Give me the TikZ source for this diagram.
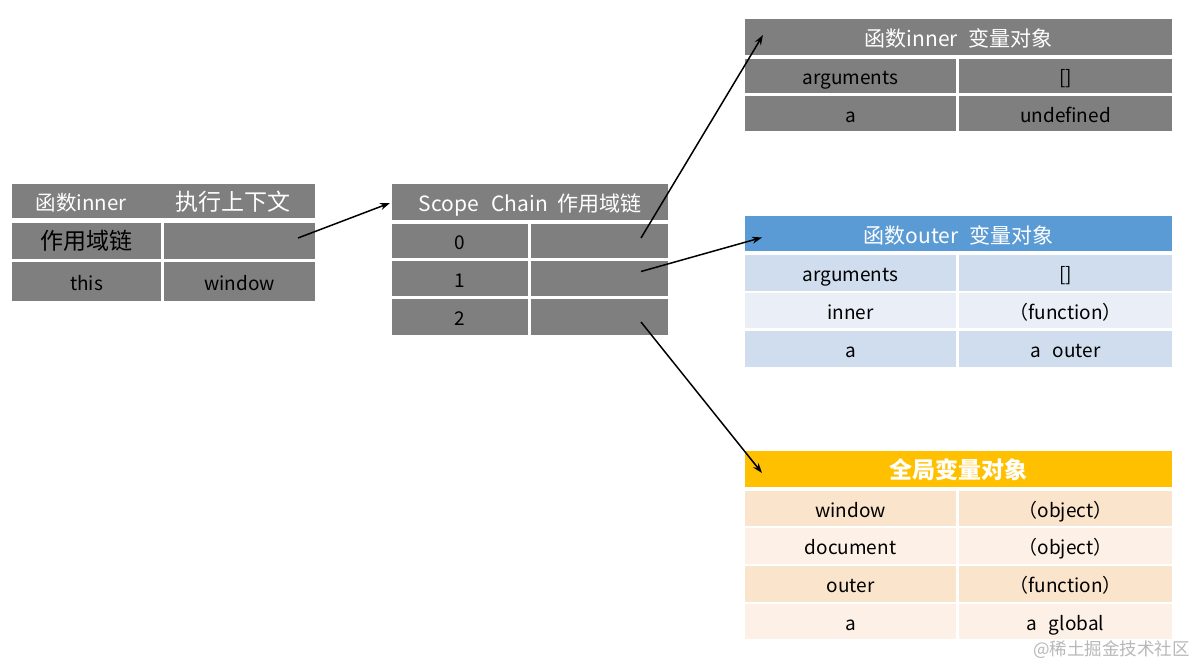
\documentclass[tikz,border=0pt]{standalone}
\usepackage{fontspec}
\setmainfont{Noto Sans CJK SC}
\usetikzlibrary{calc,arrows.meta}
\definecolor{cgray}{HTML}{7F7F7F}
\definecolor{bhead}{HTML}{5B9BD5}
\definecolor{bdark}{HTML}{D0DDEE}
\definecolor{blight}{HTML}{E9EEF7}
\definecolor{ohead}{HTML}{FFC000}
\definecolor{odark}{HTML}{FBE4CC}
\definecolor{olight}{HTML}{FDF1E7}
\definecolor{wmark}{HTML}{B8B8B8}
\newcommand{\tcell}[7]{\node[#6, minimum width={(#4-#2)*1pt}, minimum height={(#5-#3)*1pt}] (#1) at ({(#2+#4)/2},{(#3+#5)/2}) {#7};}
\begin{document}
\begin{tikzpicture}[x=1pt,y=-1pt,
  base/.style={inner sep=0pt, outer sep=0pt, draw=none, text height=17pt, text depth=0pt},
  hbase/.style={inner sep=0pt, outer sep=0pt, draw=none, text height=19pt, text depth=0pt},
  gcell/.style={base, fill=cgray, text=black, font=\fontsize{19}{22}\selectfont},
  ghead/.style={hbase, fill=cgray, text=white, font=\fontsize{21}{24}\selectfont},
  bcellA/.style={base, fill=bdark, text=black, font=\fontsize{19}{22}\selectfont},
  bcellB/.style={base, fill=blight, text=black, font=\fontsize{19}{22}\selectfont},
  bheadst/.style={hbase, fill=bhead, text=white, font=\fontsize{21}{24}\selectfont},
  ocellA/.style={base, fill=odark, text=black, font=\fontsize{19}{22}\selectfont},
  ocellB/.style={base, fill=olight, text=black, font=\fontsize{19}{22}\selectfont},
  oheadst/.style={hbase, fill=ohead, text=white, font=\fontsize{23}{26}\selectfont\bfseries},
  htext/.style={inner sep=0pt, text=white, text height=18pt, text depth=0pt},
  conn/.style={line width=1.5pt, -{Stealth[length=10pt,width=7pt]}},
  wm/.style={inner sep=0pt, text=wmark, font=\fontsize{17.5}{20}\selectfont}
]
\fill[white] (0,0) rectangle (1198,666);
\useasboundingbox (0,0) rectangle (1198,666);

% left table: execution context
\tcell{lh}{12}{184}{315}{218}{ghead}{}
\node[htext, font=\fontsize{20.5}{24}\selectfont] (lht1) at (81,201) {函数inner};
\node[htext, font=\fontsize{23}{26}\selectfont] (lht2) at (233,201) {执行上下文};
\tcell{l1l}{12}{223}{161}{259}{hbase, text height=17pt, fill=cgray, text=black, font=\fontsize{23}{26}\selectfont}{作用域链}
\tcell{l1r}{164}{223}{315}{259}{gcell}{}
\tcell{l2l}{12}{262}{161}{301}{gcell}{this}
\tcell{l2r}{164}{262}{315}{301}{gcell}{window}

% middle table: scope chain
\tcell{mh}{392}{184}{668}{220}{ghead}{Scope\hspace{0.6em}Chain\hspace{0.45em}作用域链}
\tcell{m0l}{392}{224}{528}{258}{gcell}{0}
\tcell{m0r}{531}{224}{668}{258}{gcell}{}
\tcell{m1l}{392}{261}{528}{296}{gcell}{1}
\tcell{m1r}{531}{261}{668}{296}{gcell}{}
\tcell{m2l}{392}{299}{528}{335}{gcell}{2}
\tcell{m2r}{531}{299}{668}{335}{gcell}{}

% inner variable object
\tcell{th}{745}{19}{1172}{55}{ghead}{函数inner\hspace{0.5em}变量对象}
\tcell{t1l}{745}{59}{956}{93}{gcell}{arguments}
\tcell{t1r}{959}{59}{1172}{93}{gcell}{[]}
\tcell{t2l}{745}{96}{956}{131}{gcell}{a}
\tcell{t2r}{959}{96}{1172}{131}{gcell}{undefined}

% outer variable object
\tcell{bh}{745}{216}{1172}{251}{bheadst}{函数outer\hspace{0.5em}变量对象}
\tcell{b1l}{745}{255}{956}{291}{bcellA}{arguments}
\tcell{b1r}{959}{255}{1172}{291}{bcellA}{[]}
\tcell{b2l}{745}{293}{956}{328}{bcellB}{inner}
\tcell{b2r}{959}{293}{1172}{328}{bcellB}{（function）}
\tcell{b3l}{745}{331}{956}{367}{bcellA}{a}
\tcell{b3r}{959}{331}{1172}{367}{bcellA}{a\hspace{0.6em}outer}

% global variable object
\tcell{oh}{745}{451}{1172}{487}{oheadst}{全局变量对象}
\tcell{o1l}{745}{491}{956}{526}{ocellA}{window}
\tcell{o1r}{959}{491}{1172}{526}{ocellA}{（object）}
\tcell{o2l}{745}{528}{956}{564}{ocellB}{document}
\tcell{o2r}{959}{528}{1172}{564}{ocellB}{（object）}
\tcell{o3l}{745}{566}{956}{602}{ocellA}{outer}
\tcell{o3r}{959}{566}{1172}{602}{ocellA}{（function）}
\tcell{o4l}{745}{604}{956}{639}{ocellB}{a}
\tcell{o4r}{959}{604}{1172}{639}{ocellB}{a\hspace{0.6em}global}

% connectors
\draw[conn] ($(l1r.east)+(-17,-3)$) -- ($(mh.west)+(-2,1)$);
\draw[conn] ($(m0r.east)+(-27,-3)$) -- ($(th.west)+(18,-2)$);
\draw[conn] ($(m1r.east)+(-27,-7)$) -- ($(bh.west)+(17,4)$);
\draw[conn] ($(m2r.east)+(-27,5)$) -- ($(oh.west)+(17,4)$);

% watermark
\node[wm, anchor=east] (wmk) at (1190,650) {@稀土掘金技术社区};
\end{tikzpicture}
\end{document}
